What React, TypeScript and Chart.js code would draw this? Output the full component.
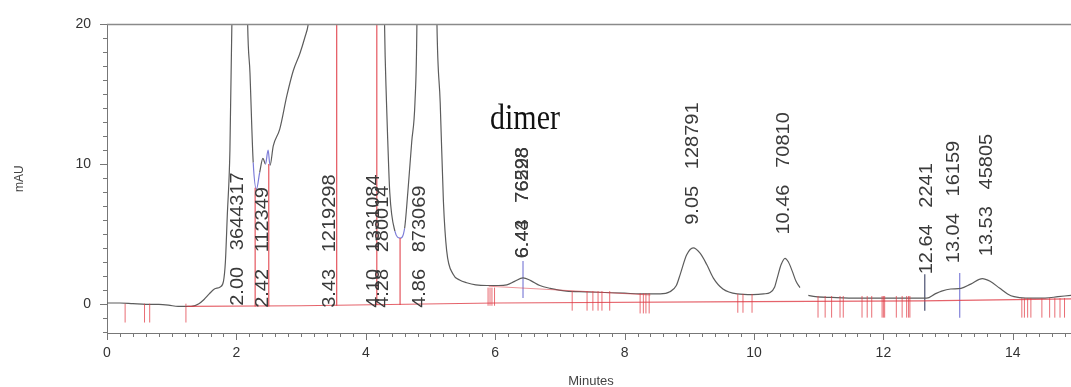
import React, { useEffect, useRef } from "react";
import { Chart, registerables } from "chart.js";
Chart.register(...registerables);

// ---- chromatogram trace (minutes, mAU); null = gap in the recording ----
const traceTime = [0, 0.2, 0.4, 0.6, 0.8, 0.95, 1.1, 1.3, 1.42, 1.5, 1.58, 1.66, 1.75, 1.8, 1.83, 1.86, 1.9, 1.93, 1.97, 2.05, 2.13, 2.17, 2.21, 2.26, 2.31, 2.36, 2.41, 2.45, 2.49, 2.52, 2.57, 2.67, 2.78, 2.88, 2.98, 3.06, 3.11, 3.2, 3.5, 3.9, 4.2, 4.29, 4.32, 4.34, 4.37, 4.45, 4.53, 4.6, 4.65, 4.71, 4.76, 4.79, 4.85, 4.95, 5.05, 5.1, 5.15, 5.2, 5.25, 5.35, 5.45, 5.56, 5.7, 5.87, 6.05, 6.18, 6.3, 6.43, 6.55, 6.69, 6.85, 7.1, 7.4, 7.7, 8.0, 8.24, 8.55, 8.7, 8.8, 8.86, 8.96, 9.06, 9.17, 9.27, 9.37, 9.52, 9.74, 9.98, 10.15, 10.25, 10.32, 10.36, 10.42, 10.48, 10.53, 10.59, 10.65, 10.71, 10.78, 10.84, 10.95, 11.2, 11.6, 12.0, 12.4, 12.67, 12.8, 12.9, 13.04, 13.2, 13.35, 13.53, 13.65, 13.8, 13.92, 14.02, 14.2, 14.5, 14.7, 14.9];
const traceSignal = [0.05, 0.05, 0, -0.05, -0.05, -0.1, -0.2, -0.2, 0.0, 0.3, 0.7, 1.05, 1.2, 1.6, 3.0, 6.4, 11, 20, 45, 80, 40, 21, 16.5, 10.1, 8.2, 9.4, 10.4, 10.0, 11.0, 9.9, 11.3, 12.5, 14.9, 16.7, 17.9, 19.1, 20, 24, 60, 90, 60, 20, 14.4, 11.6, 8.0, 5.2, 4.7, 5.4, 8.0, 11.6, 14.4, 20, 60, 80, 40, 20, 14.4, 7.3, 3.8, 2.1, 1.7, 1.5, 1.35, 1.3, 1.3, 1.35, 1.6, 1.85, 1.65, 1.3, 1.1, 0.9, 0.85, 0.8, 0.75, 0.7, 0.7, 0.85, 1.3, 2.1, 3.5, 4.0, 3.6, 2.8, 1.85, 1.05, 0.7, 0.65, 0.7, 0.8, 1.2, 1.85, 2.8, 3.25, 3.0, 2.35, 1.6, 1.15, null, 0.6, 0.5, 0.45, 0.4, 0.4, 0.4, 0.4, 0.7, 0.9, 1.05, 1.1, 1.4, 1.8, 1.6, 1.1, 0.7, 0.5, 0.4, 0.4, 0.5, 0.6];
// stretches of the trace drawn in blue (valley / apex markers)
const blueStart = [2.26, 2.45, 4.45];
const blueEnd = [2.36, 2.52, 4.6];

// ---- peak annotations ----
const peakRT = ["2.00", "2.42", "3.43", "4.10", "4.28", "4.86", "6.43", "6.44", "9.05", "10.46", "12.64", "13.04", "13.53"];
const peakArea = ["3644317", "112349", "1219298", "1331084", "280014", "873069", "76298", "76528", "128791", "70810", "2241", "16159", "45805"];
const labelTime = [2.02, 2.41, 3.45, 4.13, 4.27, 4.84, 6.43, 6.43, 9.06, 10.46, 12.67, 13.09, 13.6];
const labelBase = [-0.15, -0.3, -0.3, -0.3, -0.3, -0.3, 3.25, 3.25, 5.65, 4.95, 2.1, 2.9, 3.4];
const noteText = "dimer";
const noteTime = 6.46;
const noteValue = 12.5;

// ---- integration baseline and drop lines ----
const baseTime = [1.24, 3.0, 6.0, 10.0, 12.6, 14.9];
const baseSignal = [-0.2, -0.15, 0.05, 0.15, 0.2, 0.35];
const dimerBaseTime = [5.9, 8.4];
const dimerBaseSignal = [1.25, 0.62];
const dropTime = [2.29, 2.5, 3.55, 4.17, 4.53];
const dropTop = [8.3, 10.0, 25, 25, 4.7];
const dropBottom = [-0.2, -0.2, -0.15, -0.1, -0.1];

// ---- event marks ----
const eventTime = [0.28, 0.58, 0.66, 1.22, 5.89, 5.92, 5.95, 5.99, 7.19, 7.42, 7.51, 7.59, 7.65, 7.77, 8.24, 8.29, 8.33, 8.38, 9.75, 9.83, 9.97, 10.99, 11.1, 11.2, 11.33, 11.38, 11.67, 11.75, 11.82, 11.98, 12.0, 12.02, 12.2, 12.29, 12.36, 12.39, 12.41, 14.14, 14.18, 14.23, 14.28, 14.45, 14.57, 14.65, 14.73, 14.8];
const eventTop = [0, 0, 0, 0, 1.15, 1.15, 1.15, 1.15, 0.9, 0.9, 0.9, 0.9, 0.9, 0.9, 0.75, 0.75, 0.75, 0.75, 0.7, 0.7, 0.7, 0.55, 0.55, 0.55, 0.55, 0.55, 0.55, 0.55, 0.55, 0.55, 0.55, 0.55, 0.55, 0.55, 0.55, 0.55, 0.55, 0.4, 0.4, 0.4, 0.4, 0.4, 0.4, 0.4, 0.4, 0.4];
const eventBottom = [-1.35, -1.35, -1.35, -1.35, -0.15, -0.15, -0.15, -0.15, -0.5, -0.5, -0.5, -0.5, -0.5, -0.5, -0.7, -0.7, -0.7, -0.7, -0.65, -0.65, -0.65, -1.0, -1.0, -1.0, -1.0, -1.0, -1.0, -1.0, -1.0, -1.0, -1.0, -1.0, -1.0, -1.0, -1.0, -1.0, -1.0, -1.0, -1.0, -1.0, -1.0, -1.0, -1.0, -1.0, -1.0, -1.0];
const markTime = [6.43, 13.18, 12.64];
const markTop = [3.05, 2.2, 2.1];
const markBottom = [0.4, -1.0, -0.5];
const markColor = ["#8080d8", "#8080d8", "#4a5070"];

// ---- axes ----
const xMin = 0, xMax = 14.9, yMin = -2.1, yMax = 20;
const xTickValues = [0, 2, 4, 6, 8, 10, 12, 14];
const yTickValues = [0, 10, 20];
const xTitle = "Minutes";
const yTitle = "mAU";

const RED = "rgba(222,60,70,0.8)";
const SANS = '"Liberation Sans", Arial, sans-serif';

function segments(t: number[], top: number[], bot: number[]) {
  const out: any[] = [];
  t.forEach((x, i) => {
    out.push({ x, y: bot[i] }, { x, y: top[i] }, { x, y: null });
  });
  return out;
}

const overlay = {
  id: "overlay",
  afterDatasetsDraw(chart: any) {
    const { ctx, chartArea, scales } = chart;
    const xs = scales.x, ys = scales.y;
    ctx.save();
    // top frame line
    ctx.strokeStyle = "#8a8a8a";
    ctx.lineWidth = 1.5;
    ctx.beginPath();
    ctx.moveTo(chartArea.left, chartArea.top);
    ctx.lineTo(chartArea.right, chartArea.top);
    ctx.stroke();
    // ticks
    ctx.strokeStyle = "#777";
    ctx.lineWidth = 1;
    for (let v = -2; v <= 20; v++) {
      const y = Math.round(ys.getPixelForValue(v)) + 0.5;
      const len = v % 10 === 0 ? 7 : 4;
      ctx.beginPath();
      ctx.moveTo(chartArea.left - len, y);
      ctx.lineTo(chartArea.left, y);
      ctx.stroke();
    }
    for (let i = 0; i <= 74; i++) {
      const v = i / 5;
      const x = Math.round(xs.getPixelForValue(v)) + 0.5;
      const len = i % 10 === 0 ? 7 : 4;
      ctx.beginPath();
      ctx.moveTo(x, chartArea.bottom);
      ctx.lineTo(x, chartArea.bottom + len);
      ctx.stroke();
    }
    // titles
    ctx.fillStyle = "#444";
    ctx.font = "13px " + SANS;
    ctx.textAlign = "center";
    ctx.textBaseline = "middle";
    ctx.fillText(xTitle, 591, 381);
    ctx.save();
    ctx.translate(20, (chartArea.top + chartArea.bottom) / 2);
    ctx.rotate(-Math.PI / 2);
    ctx.font = "12px " + SANS;
    ctx.fillText(yTitle, 0, 0);
    ctx.restore();
    // peak labels
    ctx.fillStyle = "#3a3a3a";
    ctx.font = "20px " + SANS;
    ctx.textAlign = "left";
    ctx.textBaseline = "middle";
    peakRT.forEach((rt, i) => {
      const x = xs.getPixelForValue(labelTime[i]);
      const y = ys.getPixelForValue(labelBase[i]);
      ctx.save();
      ctx.translate(x, y);
      ctx.rotate(-Math.PI / 2);
      ctx.scale(1, 0.92);
      ctx.fillText(rt + "   " + peakArea[i], 0, 0);
      ctx.restore();
    });
    // note
    ctx.save();
    ctx.fillStyle = "#111";
    ctx.font = '30px "Liberation Serif", "Times New Roman", serif';
    ctx.textAlign = "center";
    ctx.textBaseline = "alphabetic";
    ctx.translate(xs.getPixelForValue(noteTime), ys.getPixelForValue(noteValue));
    ctx.scale(1, 1.17);
    ctx.fillText(noteText, 0, 0);
    ctx.restore();
    ctx.restore();
  },
};

export default function App() {
  const ref = useRef<HTMLCanvasElement>(null);
  useEffect(() => {
    if (!ref.current) return;
    const inBlue = (x: number) => blueStart.some((s, i) => x >= s && x < blueEnd[i]);
    const chart = new Chart(ref.current, {
      type: "line",
      data: {
        datasets: [
          {
            label: "baseline",
            data: baseTime.map((x, i) => ({ x, y: baseSignal[i] })),
            borderColor: RED,
            borderWidth: 1.2,
            pointRadius: 0,
            clip: 0,
          } as any,
          {
            label: "dimer baseline",
            data: dimerBaseTime.map((x, i) => ({ x, y: dimerBaseSignal[i] })),
            borderColor: "rgba(222,60,70,0.55)",
            borderWidth: 1,
            pointRadius: 0,
            clip: 0,
          },
          {
            label: "drops",
            data: segments(dropTime, dropTop, dropBottom),
            borderColor: "rgba(226,70,80,0.85)",
            borderWidth: 1.3,
            pointRadius: 0,
            spanGaps: false,
            clip: 0,
          },
          {
            label: "events",
            data: segments(eventTime, eventTop, eventBottom),
            borderColor: "rgba(226,60,70,0.75)",
            borderWidth: 1,
            pointRadius: 0,
            spanGaps: false,
            clip: 0,
          },
          {
            label: "signal",
            data: traceTime.map((x, i) => ({ x, y: traceSignal[i] })),
            borderColor: "#5c5c5c",
            borderWidth: 1.2,
            pointRadius: 0,
            spanGaps: false,
            cubicInterpolationMode: "monotone",
            segment: {
              borderColor: (c: any) => (inBlue(c.p0.parsed.x) ? "#7c7cd8" : "#5c5c5c"),
            },
            clip: 0,
          },
          ...markTime.map((t, i) => ({
            label: "mark" + i,
            data: [{ x: t, y: markBottom[i] }, { x: t, y: markTop[i] }],
            borderColor: markColor[i],
            borderWidth: 1.2,
            pointRadius: 0,
            clip: 0,
          })),
        ],
      },
      options: {
        animation: false,
        responsive: false,
        devicePixelRatio: 1,
        parsing: true,
        layout: { padding: { top: 21, left: 0, right: 0, bottom: 0 } },
        plugins: { legend: { display: false }, tooltip: { enabled: false } },
        scales: {
          x: {
            type: "linear",
            min: xMin,
            max: xMax,
            afterBuildTicks: (s: any) => {
              s.ticks = xTickValues.map((v) => ({ value: v }));
            },
            afterFit: (s: any) => {
              s.height = 54;
            },
            grid: { display: false, drawTicks: false },
            border: { display: true, color: "#777", width: 1 },
            ticks: { color: "#333", font: { family: SANS, size: 14 }, padding: 12, maxRotation: 0, autoSkip: false },
          },
          y: {
            type: "linear",
            min: yMin,
            max: yMax,
            afterBuildTicks: (s: any) => {
              s.ticks = yTickValues.map((v) => ({ value: v }));
            },
            afterFit: (s: any) => {
              s.width = 107;
            },
            grid: { display: false, drawTicks: false },
            border: { display: true, color: "#777", width: 1 },
            ticks: { color: "#333", font: { family: SANS, size: 14 }, padding: 16 },
          },
        },
      } as any,
      plugins: [overlay],
    });
    return () => chart.destroy();
  }, []);
  return (
    <div style={{ position: "fixed", left: 0, top: 0, width: 1071, height: 387, background: "#fff" }}>
      <canvas ref={ref} width={1071} height={387} style={{ width: 1071, height: 387, display: "block" }} />
    </div>
  );
}
